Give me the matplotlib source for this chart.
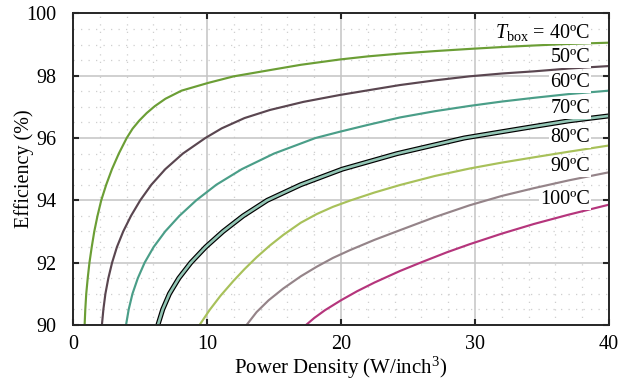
import matplotlib
matplotlib.use("Agg")
import matplotlib.pyplot as plt
from matplotlib.ticker import MultipleLocator

FS = 14.5

plt.rcParams.update({
    "font.family": "Liberation Serif",
    "mathtext.fontset": "custom",
    "mathtext.rm": "Liberation Serif",
    "mathtext.it": "Liberation Serif:italic",
    "font.size": FS,
})

# values (power density in W/inch^3, efficiency in %)
p_40 = [0.87, 0.92, 0.99, 1.1, 1.23, 1.4, 1.59, 1.83, 2.11, 2.48, 2.91, 3.42, 4.01, 4.45, 4.95, 5.5, 6.1, 6.9,
        8.1, 10.1, 12.0, 14.7, 17.0, 19.9, 22.0, 24.4, 27.0, 29.6, 32.0, 34.4, 37.0, 40.0]
e_40 = [90.0, 90.5, 91.0, 91.5, 92.0, 92.5, 93.0, 93.5, 94.0, 94.5, 95.0, 95.5, 96.0, 96.3, 96.56, 96.8, 97.02, 97.26,
        97.52, 97.77, 97.98, 98.18, 98.35, 98.52, 98.62, 98.71, 98.79, 98.86, 98.92, 98.97, 99.02, 99.06]

p_50 = [2.16, 2.27, 2.42, 2.64, 2.92, 3.28, 3.75, 4.33, 5.02, 5.85, 6.89, 8.2, 9.88, 11.1, 12.8,
        14.7, 17.2, 19.9, 22.0, 24.4, 27.0, 29.6, 32.0, 34.4, 37.0, 40.0]
e_50 = [90.0, 90.5, 91.0, 91.5, 92.0, 92.5, 93.0, 93.5, 94.0, 94.5, 95.0, 95.5, 96.0, 96.31, 96.64,
        96.9, 97.16, 97.38, 97.53, 97.7, 97.85, 97.98, 98.07, 98.14, 98.23, 98.31]

p_60 = [3.96, 4.16, 4.44, 4.84, 5.35, 6.02, 6.88, 7.94, 9.2, 10.7, 12.6, 15.0, 18.1, 19.9, 22.0,
        24.4, 27.0, 29.6, 32.0, 34.4, 37.0, 40.0]
e_60 = [90.0, 90.5, 91.0, 91.5, 92.0, 92.5, 93.0, 93.5, 94.0, 94.5, 95.0, 95.5, 96.0, 96.2, 96.42,
        96.66, 96.86, 97.03, 97.17, 97.29, 97.41, 97.52]

p_70 = [6.34, 6.7, 7.2, 7.9, 8.8, 9.9, 11.2, 12.7, 14.5, 17.0, 20.1, 24.2, 29.2, 32.0, 34.4, 37.0, 40.0]
e_70 = [90.0, 90.5, 91.0, 91.5, 92.0, 92.5, 93.0, 93.5, 94.0, 94.5, 95.0, 95.5, 96.0, 96.2, 96.37, 96.55, 96.71]

p_80 = [9.45, 10.2, 11.0, 11.97, 12.8, 13.7, 14.7, 15.7, 17.0, 18.2, 19.4, 20.67, 22.5, 24.4, 27.0,
        29.6, 32.0, 34.4, 37.0, 40.0]
e_80 = [90.0, 90.48, 90.93, 91.41, 91.79, 92.17, 92.55, 92.89, 93.28, 93.56, 93.79, 93.99, 94.25, 94.49, 94.78,
        95.02, 95.21, 95.38, 95.56, 95.76]

p_90 = [12.96, 13.7, 14.6, 15.7, 17.0, 18.2, 19.4, 20.67, 22.5, 24.4, 27.0, 29.6, 32.0, 34.4, 37.0, 40.0]
e_90 = [90.0, 90.41, 90.79, 91.17, 91.56, 91.87, 92.15, 92.4, 92.73, 93.04, 93.46, 93.84, 94.14, 94.39, 94.64, 94.9]

p_100 = [17.4, 18.0, 18.8, 20.0, 21.2, 22.5, 24.4, 26.0, 27.9, 29.6, 32.0, 34.4, 37.0, 40.0]
e_100 = [90.0, 90.22, 90.47, 90.79, 91.08, 91.36, 91.73, 92.01, 92.33, 92.59, 92.93, 93.24, 93.54, 93.86]

labels = [r"$T_{\rm box}$ = 40ºC", "50ºC", "60ºC", "70ºC", "80ºC", "90ºC", "100ºC"]
label_y = [99.38, 98.58, 97.78, 96.95, 96.02, 95.08, 94.03]

colors = ["#6b9e35", "#5a4650", "#4a9e88", "#93c6b5", "#a8c15a", "#958489", "#b5357c"]

curves = [(p_40, e_40), (p_50, e_50), (p_60, e_60), (p_70, e_70),
          (p_80, e_80), (p_90, e_90), (p_100, e_100)]

fig = plt.figure(figsize=(6.28, 3.83), dpi=100)
ax = fig.add_axes([0.1162, 0.1517, 0.8535, 0.8133])

for i, (p, e) in enumerate(curves):
    if i == 3:
        # the 70 degC curve is drawn with a black outline
        ax.plot(p, e, color="black", lw=3.6, solid_capstyle="butt", solid_joinstyle="round", zorder=3)
        ax.plot(p, e, color=colors[i], lw=1.9, solid_capstyle="butt", solid_joinstyle="round", zorder=4)
    else:
        ax.plot(p, e, color=colors[i], lw=1.55, solid_joinstyle="round", zorder=3)

for txt, y in zip(labels, label_y):
    ax.text(38.6, y, txt, ha="right", va="center", fontsize=FS, zorder=5,
            bbox=dict(facecolor="white", edgecolor="none", pad=0.8))

ax.set_xlim(0, 40)
ax.set_ylim(90, 100)
ax.xaxis.set_major_locator(MultipleLocator(10))
ax.xaxis.set_minor_locator(MultipleLocator(2))
ax.yaxis.set_major_locator(MultipleLocator(2))
ax.yaxis.set_minor_locator(MultipleLocator(0.5))

ax.grid(which="major", color="#c4c4c4", lw=1.1, ls="-", zorder=0)
ax.grid(which="minor", color="#cfcfcf", lw=0.9, ls=(0, (1, 5)), zorder=0)
ax.set_axisbelow(True)

ax.tick_params(which="major", direction="in", top=True, right=True,
               length=4.5, width=1.5, color="#262626", labelsize=FS)
ax.tick_params(axis="y", which="major", pad=12)
ax.tick_params(axis="x", which="major", pad=7)
ax.tick_params(which="minor", length=0)

for s in ax.spines.values():
    s.set_linewidth(1.4)
    s.set_color("#262626")
    s.set_zorder(6)

ax.set_xlabel("Power Density (W/inch$^3$)", fontsize=FS + 0.5, labelpad=1)
ax.set_ylabel("Efficiency (%)", fontsize=FS)
ax.yaxis.set_label_coords(-0.073, 0.5)

fig.savefig("out.png", dpi=100)
